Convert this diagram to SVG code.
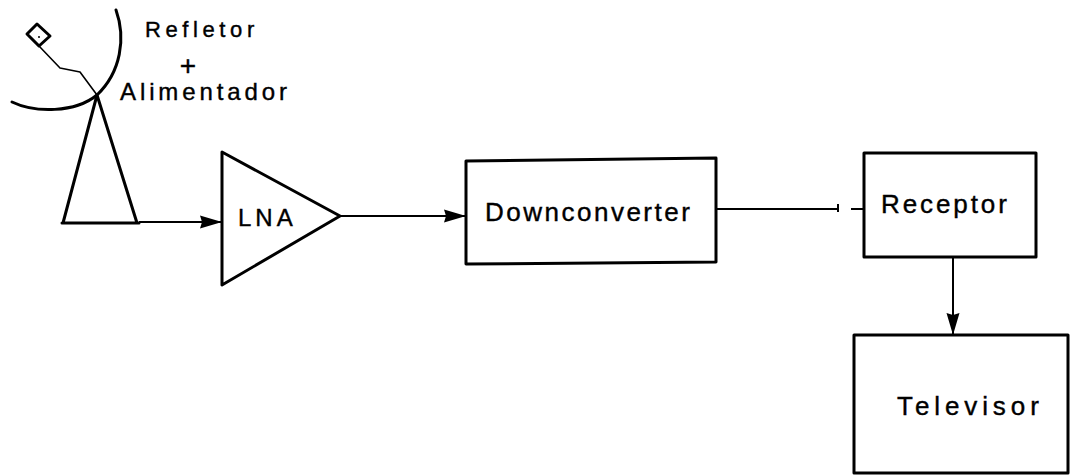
<svg xmlns="http://www.w3.org/2000/svg" width="1076" height="476" viewBox="0 0 1076 476">
  <style>
    .shape { fill: none; stroke: #000; stroke-width: 3; stroke-linejoin: round; stroke-linecap: round; }
    .thin { fill: none; stroke: #000; stroke-width: 1.6; stroke-linecap: round; stroke-linejoin: round; }
    .wire { fill: none; stroke: #000; stroke-width: 2; }
    .lbl { font-family: "Liberation Sans", Arial, sans-serif; fill: #000; stroke: #000; stroke-width: 0.4; }
  </style>
  <defs>
    <marker id="arrow" markerUnits="userSpaceOnUse" markerWidth="24" markerHeight="16" refX="22" refY="7" orient="auto">
      <path d="M0,0.5 L22,7 L0,13.5 L2,7 Z" fill="#000"/>
    </marker>
  </defs>
  <rect width="1076" height="476" fill="#fff"/>

  <!-- Antenna: reflector dish, feed horn, tripod -->
  <g id="antenna">
    <path class="shape" d="M116,10 C126,38 121,72 97,95 C75,113 35,113 12,102"/>
    <path class="shape" stroke-width="2.2" d="M27,34 L37,24 L50,36 L39,46 Z"/>
    <circle cx="39" cy="37" r="1" fill="#000"/>
    <path class="thin" d="M39,46 L60,68 L80,72 L97,95"/>
    <path class="shape" d="M97,95 L63,223 M97,95 L137,223 M62,223 H139"/>
    <text class="lbl" x="145" y="37" font-size="22" letter-spacing="4.6">Refletor</text>
    <text class="lbl" x="188" y="75" font-size="28" text-anchor="middle">+</text>
    <text class="lbl" x="120" y="100" font-size="24" letter-spacing="3.9">Alimentador</text>
  </g>

  <!-- Low noise amplifier -->
  <g id="lna">
    <path class="shape" d="M222,152 L340,216 L222,285 Z"/>
    <text class="lbl" x="238" y="226" font-size="24" letter-spacing="4">LNA</text>
  </g>

  <g id="downconverter">
    <path class="shape" d="M466,161 L716,158 L716,262 L466,264 Z"/>
    <text class="lbl" x="485" y="221" font-size="26" letter-spacing="2.5">Downconverter</text>
  </g>

  <g id="receptor">
    <rect class="shape" x="864" y="153" width="172" height="104"/>
    <text class="lbl" x="881" y="213" font-size="26" letter-spacing="2.9">Receptor</text>
  </g>

  <g id="televisor">
    <rect class="shape" x="854" y="335" width="214" height="138"/>
    <text class="lbl" x="897" y="415" font-size="26" letter-spacing="4.9">Televisor</text>
  </g>

  <!-- Signal path -->
  <g id="connectors">
    <path class="wire" d="M139,222 H222" marker-end="url(#arrow)"/>
    <path class="wire" d="M340,216 H466" marker-end="url(#arrow)"/>
    <path class="wire" d="M716,209 H838"/>
    <path class="wire" d="M838,204 V212"/>
    <path class="wire" d="M851,209 H864"/>
    <path class="wire" d="M953,257 V335" marker-end="url(#arrow)"/>
  </g>
</svg>
